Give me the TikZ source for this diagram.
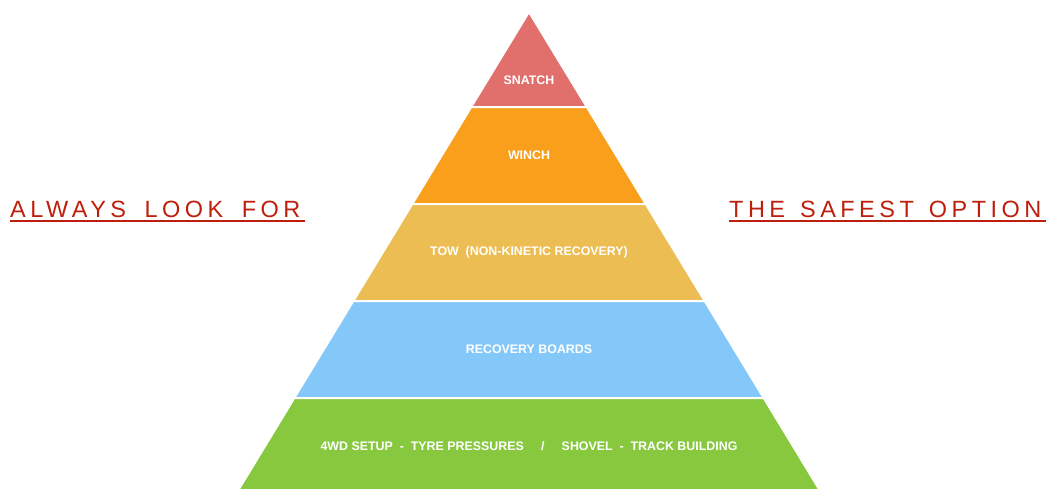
\documentclass[tikz,border=0pt]{standalone}
\usepackage{fontspec}
\setmainfont{Liberation Sans}
\newfontfamily\spacedfont[LetterSpace=19]{Liberation Sans}
\usepackage{tikz}
\usetikzlibrary{positioning}

\definecolor{snatchred}{HTML}{E1706C}
\definecolor{winchorange}{HTML}{F99F1C}
\definecolor{towyellow}{HTML}{EBBD52}
\definecolor{boardblue}{HTML}{84C8F9}
\definecolor{basegreen}{HTML}{87C83F}
\definecolor{mottored}{HTML}{BE1E0C}

\newcommand{\wgap}[1]{\hspace{#1}}

\tikzset{
    layer/.style={draw=white, line width=2, line join=miter},
    layertext/.style={text=white, font=\fontsize{12.4}{14}\selectfont\bfseries, inner sep=0},
    motto/.style={text=mottored, font=\fontsize{23.5}{28}\selectfont\spacedfont, inner sep=0, anchor=base west}
}

\begin{document}
\begin{tikzpicture}[x=1pt, y=-1pt]
    \useasboundingbox (0,0) rectangle (1051,490);

    % pyramid layers, top to bottom
    \fill [layer, fill=snatchred]   (529,12) -- (586.8,107) -- (471.2,107) -- cycle;
    \fill [layer, fill=winchorange] (471.2,107) -- (586.8,107) -- (645.7,204) -- (412.3,204) -- cycle;
    \fill [layer, fill=towyellow]   (412.3,204) -- (645.7,204) -- (704.7,301) -- (353.3,301) -- cycle;
    \fill [layer, fill=boardblue]   (353.3,301) -- (704.7,301) -- (763.7,398) -- (294.3,398) -- cycle;
    \fill [layer, fill=basegreen]   (294.3,398) -- (763.7,398) -- (819.6,490) -- (238.4,490) -- cycle;
    \draw [white, line width=2] (471.2,107) -- (586.8,107);
    \draw [white, line width=2] (412.3,204) -- (645.7,204);
    \draw [white, line width=2] (353.3,301) -- (704.7,301);
    \draw [white, line width=2] (294.3,398) -- (763.7,398);

    \node [layertext] (snatch) at (529,80) {SNATCH};
    \node [layertext] (winch) at (529,155) {WINCH};
    \node [layertext] (tow) at (529,252) {TOW\ \ (NON-KINETIC RECOVERY)};
    \node [layertext] (boards) at (529,349) {RECOVERY BOARDS};
    \node [layertext] (base) at (529,446) {4WD SETUP\ \ -\ \ TYRE PRESSURES\ \ \ \ \ /\ \ \ \ \ SHOVEL\ \ -\ \ TRACK BUILDING};

    \node [motto] (lookfor) at (10,217.5) {ALWAYS \wgap{7.5pt}LOOK \wgap{7.5pt}FOR};
    \node [motto] (safest) at (729,217.5) {THE \wgap{4pt}SAFEST \wgap{4pt}OPTION};
    \draw [mottored, line width=1.5] ([shift={(0,3.3)}]lookfor.base west) -- ([shift={(4.5,3.3)}]lookfor.base east);
    \draw [mottored, line width=1.5] ([shift={(0,3.3)}]safest.base west) -- ([shift={(4.5,3.3)}]safest.base east);

\end{tikzpicture}
\end{document}
